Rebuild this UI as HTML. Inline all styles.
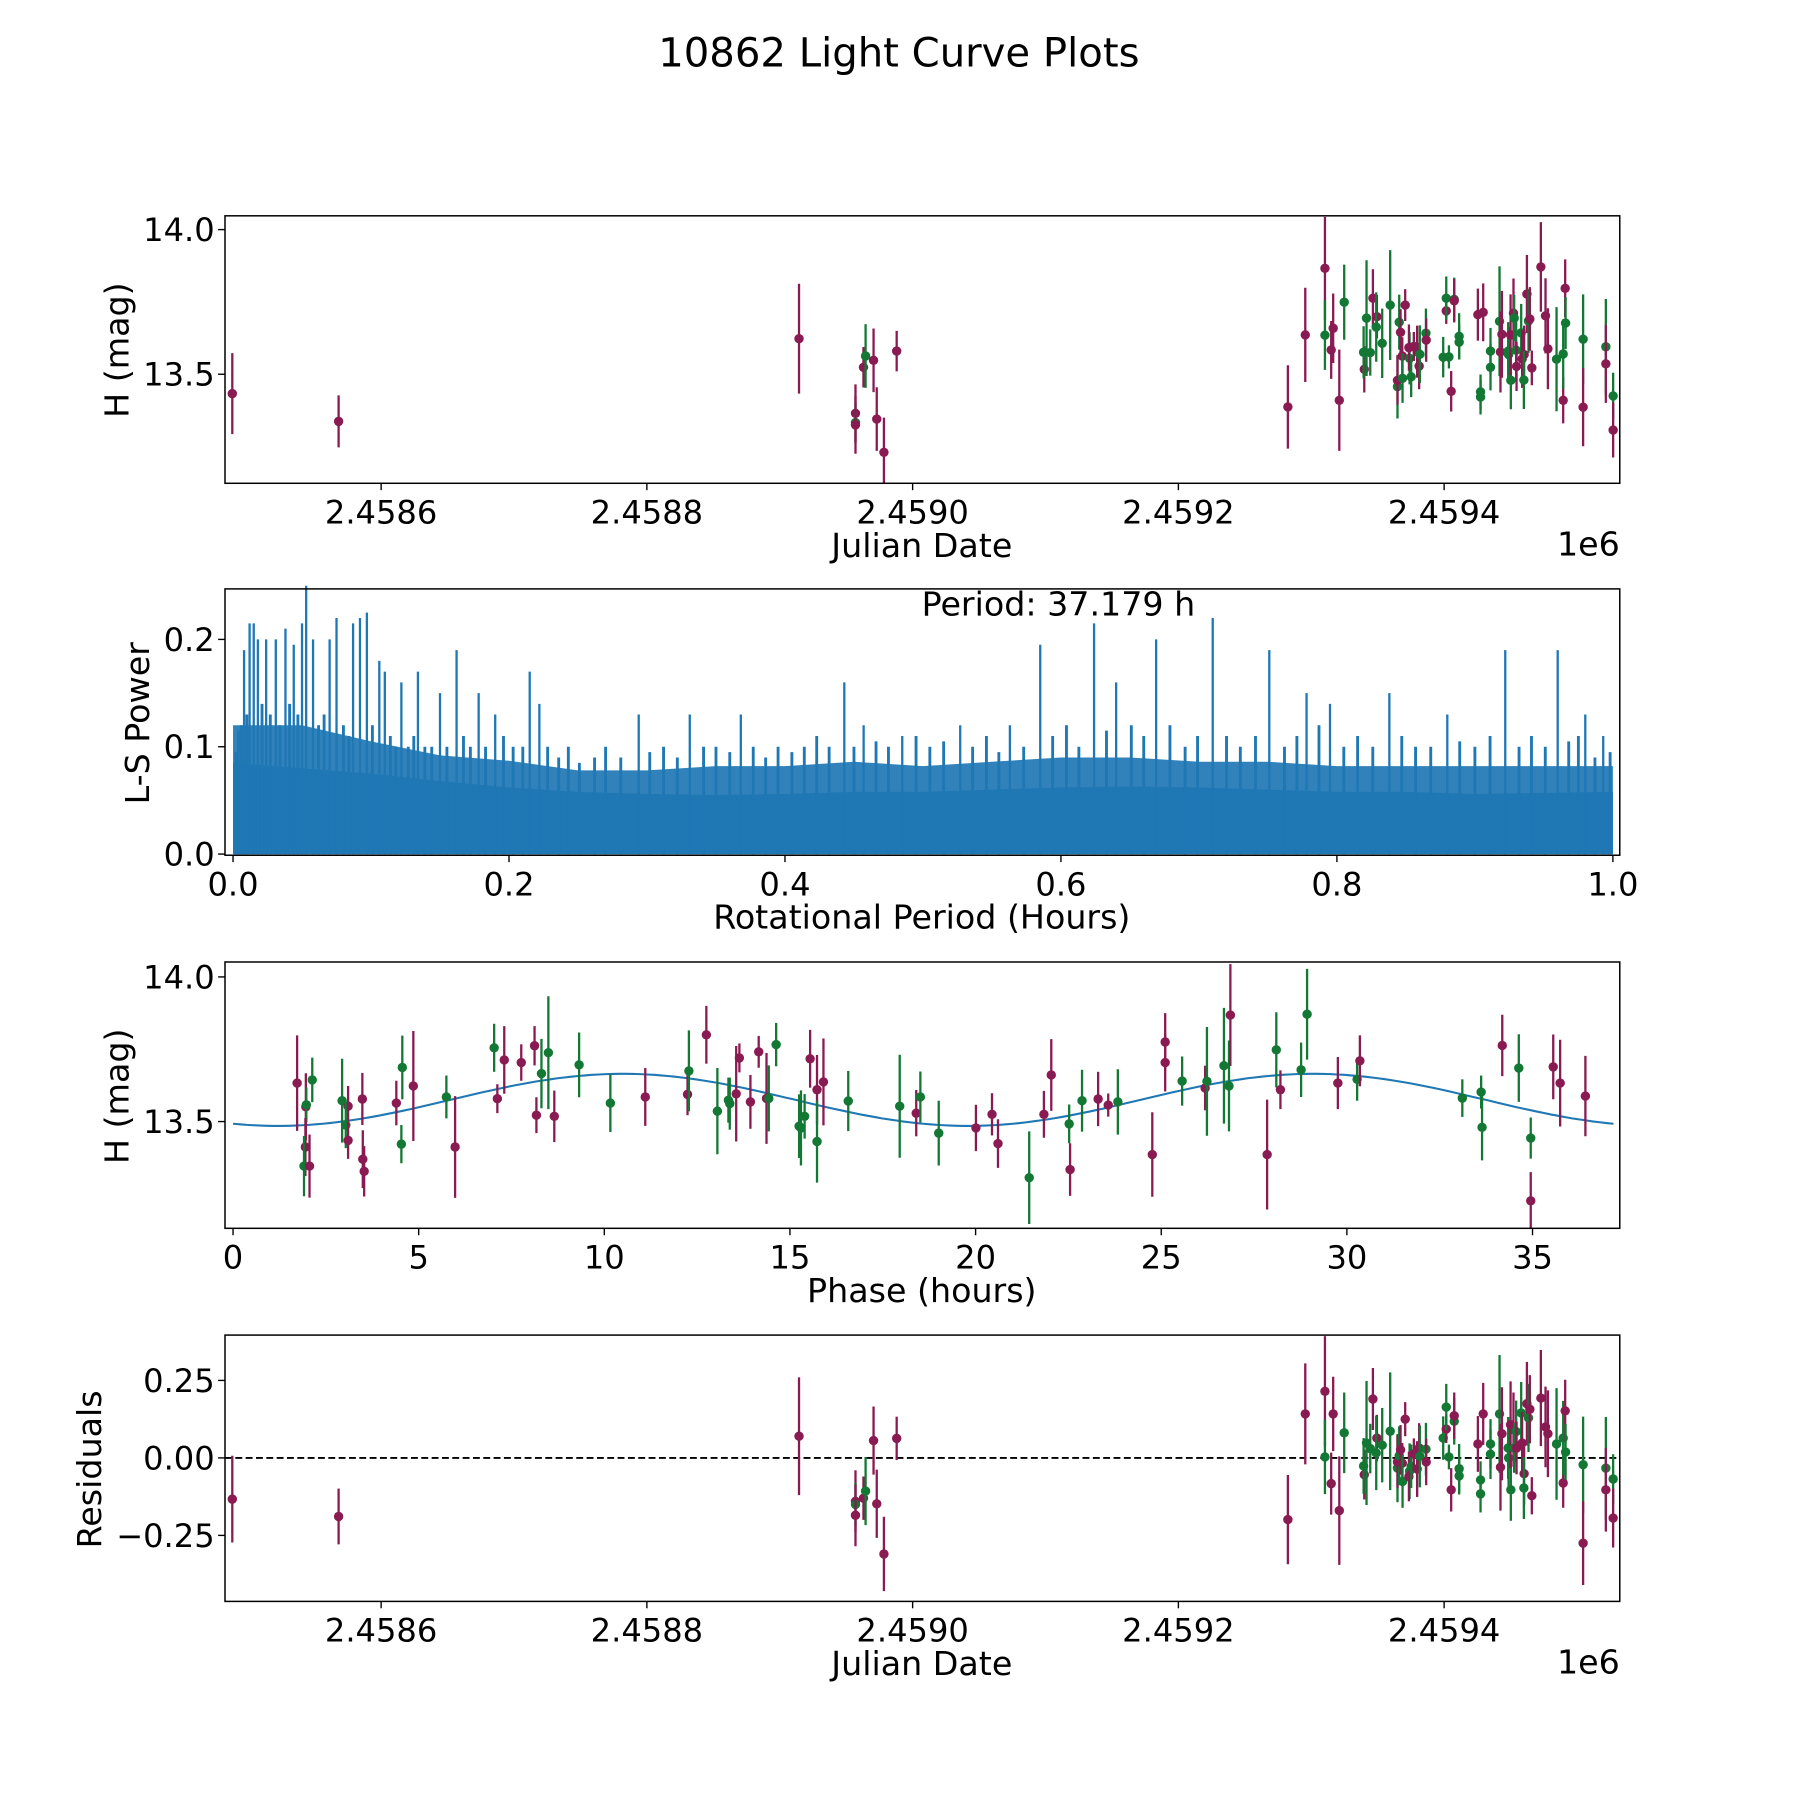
<!DOCTYPE html>
<html><head><meta charset="utf-8"><title>10862 Light Curve Plots</title>
<style>html,body{margin:0;padding:0;background:#fff}svg{display:block}text{font-family:"DejaVu Sans","Liberation Sans",sans-serif;fill:#000}</style>
</head><body>
<svg id="fig" width="1800" height="1800" viewBox="0 0 1568 1568" xmlns="http://www.w3.org/2000/svg">
<rect width="1568" height="1568" fill="#fff"/>
<text x="783" y="58" font-size="35" text-anchor="middle">10862 Light Curve Plots</text>
<g id="layer"></g>
</svg>
<script>
// ---- Panel 1 / 4 data: JD offset from 2458000, magnitude, error, band, residual
const jdOff=[488,568,914.5,957,957,957,963,964.6,970.6,973,978.4,988,
1282.4,1295.5,1310.3,1310.3,1315.0,1316.5,1321.1,1324.8,1339.9,1339.4,1341.6,1344.4,1346.4,1349.4,1348.9,1353.4,1359.4,1364.9,1364.9,1366.2,1367.2,1368.5,1368.7,1370.7,1374.0,1373.5,1375.2,1377.2,1379.7,1381.2,1381.7,1386.3,1386.5,1399.3,1401.6,1401.6,1403.6,1405.3,1407.6,1407.6,1411.3,1411.3,1425.4,1427.4,1427.4,1429.4,1434.9,1434.9,1441.7,1442.4,1443.5,1448.2,1448.5,1450.2,1450.0,1452.2,1452.7,1454.2,1454.5,1458.0,1458.7,1460.2,1460.0,1462.3,1463.5,1464.5,1466.0,1472.8,1476.3,1478.1,1484.6,1489.6,1489.6,1491.1,1491.4,1504.6,1504.6,1521.7,1521.7,1527.2,1527.2];
const magJd=[13.433,13.337,13.623,13.365,13.333,13.325,13.524,13.563,13.548,13.345,13.23,13.58,
13.387,13.636,13.866,13.635,13.584,13.659,13.410,13.749,13.517,13.576,13.694,13.575,13.763,13.699,13.663,13.607,13.739,13.457,13.479,13.680,13.645,13.563,13.486,13.739,13.555,13.592,13.491,13.596,13.578,13.528,13.569,13.642,13.618,13.559,13.719,13.763,13.560,13.441,13.759,13.754,13.631,13.611,13.706,13.439,13.421,13.714,13.524,13.580,13.683,13.577,13.638,13.580,13.568,13.479,13.636,13.711,13.694,13.583,13.527,13.643,13.553,13.568,13.480,13.777,13.684,13.691,13.522,13.871,13.702,13.588,13.552,13.410,13.570,13.797,13.677,13.621,13.386,13.595,13.536,13.425,13.307];
const errJd=[0.14,0.09,0.19,0.1,0.07,0.1,0.07,0.11,0.11,0.11,0.12,0.07,
0.144,0.163,0.178,0.12,0.1,0.12,0.175,0.13,0.08,0.09,0.2,0.08,0.1,0.075,0.12,0.12,0.19,0.11,0.085,0.095,0.08,0.065,0.085,0.055,0.09,0.08,0.07,0.05,0.09,0.08,0.1,0.085,0.075,0.07,0.045,0.075,0.04,0.07,0.075,0.075,0.08,0.06,0.09,0.06,0.06,0.1,0.08,0.08,0.19,0.14,0.15,0.1,0.095,0.1,0.14,0.12,0.08,0.1,0.085,0.1,0.1,0.1,0.1,0.135,0.11,0.11,0.06,0.155,0.13,0.14,0.18,0.08,0.12,0.1,0.09,0.155,0.135,0.165,0.135,0.08,0.095];
const bandJd="mmmmgmmgmmmm"+"mmmgmmmgmgggmmggggmgmmgmgmgmmmggmgmggmgmggmggmgggmmgggmmggmgmmgmgmmmmmgmgmggmgmgmg";
const resid=[-0.133,-0.189,0.07,-0.14,-0.15,-0.185,-0.13,-0.107,0.056,-0.148,-0.31,0.063,
-0.199,0.142,0.215,0.003,-0.083,0.142,-0.170,0.081,-0.054,-0.026,0.048,0.030,0.190,0.064,0.016,0.041,0.086,-0.033,-0.013,0.007,0.026,-0.017,-0.076,0.125,-0.043,-0.06,-0.027,0.013,-0.036,0.032,0.005,0.028,-0.013,0.064,0.093,0.164,0.003,-0.103,0.118,0.136,-0.035,-0.058,0.045,-0.071,-0.116,0.142,0.012,0.045,0.142,-0.03,0.078,0.032,0.0,-0.103,0.107,0.091,0.032,0.085,0.032,0.145,0.048,-0.051,-0.097,0.175,0.129,0.157,-0.122,0.193,0.1,0.078,0.045,-0.081,0.064,0.152,0.019,-0.022,-0.275,-0.033,-0.103,-0.068,-0.194];

// ---- Panel 3 data: phase (hours), magnitude, error, band
const phase=[1.726,1.961,1.974,1.949,1.912,2.060,2.134,2.938,3.099,3.037,3.099,3.483,3.495,3.532,4.398,4.559,4.534,4.856,5.746,5.981,7.033,7.119,7.305,7.763,8.121,8.171,8.307,8.493,8.653,9.321,10.163,11.103,12.241,12.278,12.748,13.045,13.342,13.379,13.552,13.638,13.935,14.158,14.368,14.430,14.628,15.246,15.296,15.395,15.543,15.729,15.729,15.902,16.570,17.956,18.401,18.512,
19.007,20.009,20.442,20.603,21.444,21.840,22.038,22.520,22.545,22.867,23.300,23.572,23.831,24.759,25.106,25.106,25.563,26.182,26.231,26.689,26.825,26.862,27.852,28.099,28.210,28.767,28.928,29.757,30.276,30.350,33.109,33.616,33.641,34.185,34.630,34.952,34.952,35.558,35.744,36.424];
const magPh=[13.633,13.551,13.558,13.412,13.346,13.346,13.644,13.572,13.553,13.488,13.435,13.578,13.370,13.328,13.564,13.687,13.422,13.623,13.585,13.412,13.755,13.579,13.713,13.704,13.762,13.522,13.666,13.738,13.518,13.696,13.564,13.585,13.594,13.675,13.800,13.536,13.574,13.562,13.596,13.720,13.568,13.741,13.580,13.580,13.766,13.484,13.478,13.518,13.717,13.610,13.431,13.637,13.571,13.553,13.529,13.585,
13.460,13.478,13.525,13.424,13.306,13.525,13.661,13.492,13.334,13.572,13.578,13.557,13.568,13.386,13.775,13.704,13.640,13.616,13.639,13.693,13.623,13.868,13.386,13.748,13.610,13.679,13.871,13.633,13.646,13.710,13.581,13.602,13.480,13.763,13.685,13.443,13.226,13.689,13.633,13.588];
const errPh=[0.165,0.116,0.06,0.1,0.104,0.109,0.077,0.145,0.07,0.08,0.064,0.09,0.1,0.087,0.077,0.11,0.066,0.19,0.074,0.176,0.083,0.05,0.117,0.063,0.068,0.062,0.12,0.195,0.089,0.112,0.1,0.1,0.072,0.14,0.1,0.149,0.078,0.09,0.165,0.05,0.093,0.055,0.157,0.114,0.075,0.11,0.13,0.077,0.1,0.12,0.142,0.15,0.104,0.178,0.08,0.088,
0.112,0.08,0.073,0.084,0.16,0.081,0.124,0.067,0.091,0.107,0.094,0.04,0.113,0.146,0.1,0.1,0.085,0.077,0.188,0.2,0.157,0.176,0.19,0.13,0.067,0.094,0.157,0.09,0.074,0.088,0.065,0.057,0.114,0.106,0.117,0.071,0.099,0.112,0.15,0.139];
const bandPh="mmgmgmggmgmmmmmggmgmgmmmmmggmggmmgmgggmmmmmgggggmmgmggmg"+"gmmmgmmgmgmmgmmmgmgggmmgmggmgmgggmggmmmm";
const fitMean=13.575, fitAmp=0.09, fitPeak=10.5, fitPeriod=37.179;

// ---- Panel 2 data: Lomb-Scargle periodogram (bins every 0.05 h) and peaks
const lsBins=[0,0.05,0.1,0.15,0.2,0.25,0.3,0.35,0.4,0.45,0.5,0.55,0.6,0.65,0.7,0.75,0.8,0.85,0.9,0.95,1.0];
const lsSolid=[0.085,0.08,0.075,0.068,0.062,0.058,0.056,0.055,0.056,0.058,0.058,0.06,0.062,0.063,0.062,0.06,0.058,0.058,0.056,0.057,0.058];
const lsDense=[0.12,0.12,0.105,0.092,0.087,0.078,0.078,0.082,0.082,0.086,0.082,0.086,0.09,0.09,0.086,0.086,0.082,0.082,0.082,0.082,0.082];
const peakPer=[0.004,0.008,0.012,0.015,0.018,0.024,0.031,0.038,0.044,0.05,0.053,0.058,0.07,0.075,0.087,0.092,0.097,0.106,0.11,0.122,0.134,0.15,0.162,0.178,0.19,0.215,0.222,0.294,0.331,0.368,0.443,0.457,0.485,0.527,0.563,0.585,0.624,0.640,0.669,0.710,0.751,0.778,0.795,0.838,0.880,0.922,0.96,0.98,0.993];
const peakPow=[0.115,0.19,0.215,0.215,0.2,0.2,0.2,0.21,0.195,0.215,0.25,0.2,0.2,0.22,0.215,0.22,0.225,0.18,0.17,0.16,0.17,0.15,0.19,0.15,0.13,0.17,0.14,0.13,0.13,0.13,0.16,0.12,0.11,0.12,0.12,0.195,0.215,0.16,0.2,0.22,0.19,0.15,0.14,0.15,0.13,0.19,0.19,0.13,0.11];
const minorPer=[0.002,0.006,0.01,0.021,0.027,0.034,0.041,0.047,0.062,0.066,0.08,0.084,0.101,0.114,0.118,0.127,0.131,0.139,0.144,0.155,0.167,0.172,0.183,0.196,0.203,0.21,0.228,0.236,0.243,0.251,0.262,0.27,0.281,0.302,0.312,0.322,0.341,0.35,0.36,0.377,0.386,0.395,0.405,0.414,0.423,0.432,0.45,0.466,0.475,0.495,0.505,0.515,0.536,0.546,0.555,0.573,0.594,0.604,0.613,0.633,0.651,0.66,0.679,0.69,0.699,0.72,0.73,0.741,0.762,0.771,0.787,0.805,0.815,0.826,0.847,0.857,0.868,0.889,0.9,0.911,0.932,0.941,0.951,0.968,0.975,0.987,0.998];
const minorPow=[0.095,0.12,0.13,0.14,0.13,0.12,0.14,0.13,0.12,0.13,0.12,0.11,0.12,0.11,0.1,0.1,0.11,0.1,0.1,0.1,0.11,0.1,0.1,0.11,0.1,0.1,0.1,0.09,0.1,0.085,0.09,0.1,0.09,0.095,0.1,0.09,0.1,0.1,0.095,0.1,0.09,0.1,0.095,0.1,0.11,0.1,0.1,0.105,0.1,0.11,0.1,0.105,0.1,0.11,0.095,0.1,0.11,0.12,0.1,0.115,0.12,0.11,0.12,0.1,0.11,0.11,0.1,0.11,0.1,0.11,0.12,0.1,0.11,0.1,0.11,0.1,0.1,0.105,0.1,0.11,0.1,0.11,0.1,0.105,0.11,0.09,0.095];

const NS="http://www.w3.org/2000/svg";
const layer=document.getElementById('layer');
function mk(tag,attrs,parent){const e=document.createElementNS(NS,tag);for(const k in attrs)e.setAttribute(k,attrs[k]);(parent||layer).appendChild(e);return e;}
function lin(d0,d1,r0,r1){return v=>r0+(v-d0)*(r1-r0)/(d1-d0);}
const COL={m:'#8a1b52',g:'#127834'};
const L=196,R=1411;
const TF=28, AF=29;

function axesFrame(name){
  const g=mk('g',{});
  
  
  return g;
}
function border(g,top,bot){mk('rect',{x:L,y:top,width:R-L,height:bot-top,fill:'none',stroke:'#000','stroke-width':1.3},g);}
function xticks(g,bot,vals,labels,sx,name){
  vals.forEach((v,i)=>{const x=sx(v);
    mk('line',{x1:x,y1:bot,x2:x,y2:bot+6,stroke:'#000','stroke-width':1.2},g);
    const t=mk('text',{x:x,y:bot+35,'font-size':TF,'text-anchor':'middle'},g);
    
    
    t.textContent=labels[i];});
}
function yticks(g,vals,labels,sy,name){
  vals.forEach((v,i)=>{const y=sy(v);
    mk('line',{x1:L,y1:y,x2:L-6,y2:y,stroke:'#000','stroke-width':1.2},g);
    const t=mk('text',{x:L-9,y:y+10,'font-size':TF,'text-anchor':'end'},g);
    
    
    t.textContent=labels[i];});
}
function label(g,txt,x,y,rot,name){
  const t=mk('text',{x:x,y:y,'font-size':AF,'text-anchor':'middle'},g);
  if(rot)t.setAttribute('transform','rotate(-90 '+x+' '+y+')');
  
  
  t.textContent=txt;
}
function errPoint(g,x,y,e,c,name){
  const pg=mk('g',{},g);
  
  
  mk('line',{x1:x,y1:y-e,x2:x,y2:y+e,stroke:c,'stroke-width':2},pg);
  mk('circle',{cx:x,cy:y,r:4.1,fill:c},pg);
}

// ---- Panel 1: magnitude vs JD
(function(){
  const top=188,bot=421;
  const sx=lin(600,1400,332,1258), sy=lin(13.5,14.0,326,200);
  const g=axesFrame('light-curve-panel');
  const clip=mk('clipPath',{id:'c1'},g);mk('rect',{x:L,y:top,width:R-L,height:bot-top},clip);
  const pts=mk('g',{'clip-path':'url(#c1)'},g);
  jdOff.forEach((j,i)=>{errPoint(pts,sx(j),sy(magJd[i]),sy(13.5)-sy(13.5+errJd[i]),COL[bandJd[i]],'data-point');});
  border(g,top,bot);
  xticks(g,bot,[600,800,1000,1200,1400],['2.4586','2.4588','2.4590','2.4592','2.4594'],sx,'x');
  yticks(g,[13.5,14.0],['13.5','14.0'],sy,'y');
  label(g,'Julian Date',803,485,false,'x-axis-title');
  label(g,'H (mag)',112,305,true,'y-axis-title');
  const o=mk('text',{x:R,y:484,'font-size':AF,'text-anchor':'end'},g);
  
  
  o.textContent='1e6';
})();

// ---- Panel 2: periodogram
(function(){
  const top=513,bot=745;
  const sx=lin(0,1,203,1405), sy=lin(0,0.1,744,650.5);
  const g=axesFrame('periodogram-panel');
  let d='M'+sx(0)+','+sy(0);
  lsBins.forEach((b,i)=>{d+=' L'+sx(b)+','+sy(lsDense[i]);});
  d+=' L'+sx(1)+','+sy(0)+'Z';
  const dense=mk('path',{d:d,fill:'#1f77b4','fill-opacity':0.92},g);
  
  
  let d2='M'+sx(0)+','+sy(0);
  lsBins.forEach((b,i)=>{d2+=' L'+sx(b)+','+sy(lsSolid[i]);});
  d2+=' L'+sx(1)+','+sy(0)+'Z';
  const solid=mk('path',{d:d2,fill:'#1f77b4'},g);
  
  
  minorPer.forEach((p,i)=>{
    const l=mk('line',{x1:sx(p),y1:sy(0),x2:sx(p),y2:sy(minorPow[i]),stroke:'#1f77b4','stroke-width':2.5},g);
    
    
  });
  peakPer.forEach((p,i)=>{
    const l=mk('line',{x1:sx(p),y1:sy(0),x2:sx(p),y2:sy(peakPow[i]),stroke:'#1f77b4','stroke-width':2},g);
    
    
  });
  border(g,top,bot);
  xticks(g,bot,[0,0.2,0.4,0.6,0.8,1.0],['0.0','0.2','0.4','0.6','0.8','1.0'],sx,'x');
  yticks(g,[0,0.1,0.2],['0.0','0.1','0.2'],sy,'y');
  label(g,'Rotational Period (Hours)',803,809,false,'x-axis-title');
  label(g,'L-S Power',130,630,true,'y-axis-title');
  const t=mk('text',{x:922,y:536,'font-size':AF,'text-anchor':'middle'},g);
  
  
  t.textContent='Period: 37.179 h';
})();

// ---- Panel 3: phase-folded
(function(){
  const top=838,bot=1070;
  const sx=lin(0,35,203,1335), sy=lin(13.5,14.0,977,851);
  const g=axesFrame('phase-folded-panel');
  let d='';
  for(let k=0;k<=200;k++){const p=fitPeriod*k/200;
    const m=fitMean+fitAmp*Math.cos(2*Math.PI*(p-fitPeak)/(fitPeriod/2));
    d+=(k?' L':'M')+sx(p).toFixed(1)+','+sy(m).toFixed(1);}
  const c=mk('path',{d:d,fill:'none',stroke:'#1f77b4','stroke-width':1.8},g);
  
  
  const clip=mk('clipPath',{id:'c3'},g);mk('rect',{x:L,y:top,width:R-L,height:bot-top},clip);
  const pts=mk('g',{'clip-path':'url(#c3)'},g);
  phase.forEach((p,i)=>{errPoint(pts,sx(p),sy(magPh[i]),sy(13.5)-sy(13.5+errPh[i]),COL[bandPh[i]],'phase-point');});
  border(g,top,bot);
  xticks(g,bot,[0,5,10,15,20,25,30,35],['0','5','10','15','20','25','30','35'],sx,'x');
  yticks(g,[13.5,14.0],['13.5','14.0'],sy,'y');
  label(g,'Phase (hours)',803,1134,false,'x-axis-title');
  label(g,'H (mag)',112,955,true,'y-axis-title');
})();

// ---- Panel 4: residuals
(function(){
  const top=1163,bot=1395;
  const sx=lin(600,1400,332,1258), sy=lin(0,0.25,1270,1202.5);
  const g=axesFrame('residuals-panel');
  const z=mk('line',{x1:L,y1:sy(0),x2:R,y2:sy(0),stroke:'#000','stroke-width':1.6,'stroke-dasharray':'6,3'},g);
  
  
  const clip=mk('clipPath',{id:'c4'},g);mk('rect',{x:L,y:top,width:R-L,height:bot-top},clip);
  const pts=mk('g',{'clip-path':'url(#c4)'},g);
  jdOff.forEach((j,i)=>{errPoint(pts,sx(j),sy(resid[i]),sy(0)-sy(errJd[i]),COL[bandJd[i]],'residual-point');});
  border(g,top,bot);
  xticks(g,bot,[600,800,1000,1200,1400],['2.4586','2.4588','2.4590','2.4592','2.4594'],sx,'x');
  yticks(g,[-0.25,0,0.25],['\u22120.25','0.00','0.25'],sy,'y');
  label(g,'Julian Date',803,1459,false,'x-axis-title');
  label(g,'Residuals',88,1280,true,'y-axis-title');
  const o=mk('text',{x:R,y:1458,'font-size':AF,'text-anchor':'end'},g);
  
  
  o.textContent='1e6';
})();
</script>
</body></html>
